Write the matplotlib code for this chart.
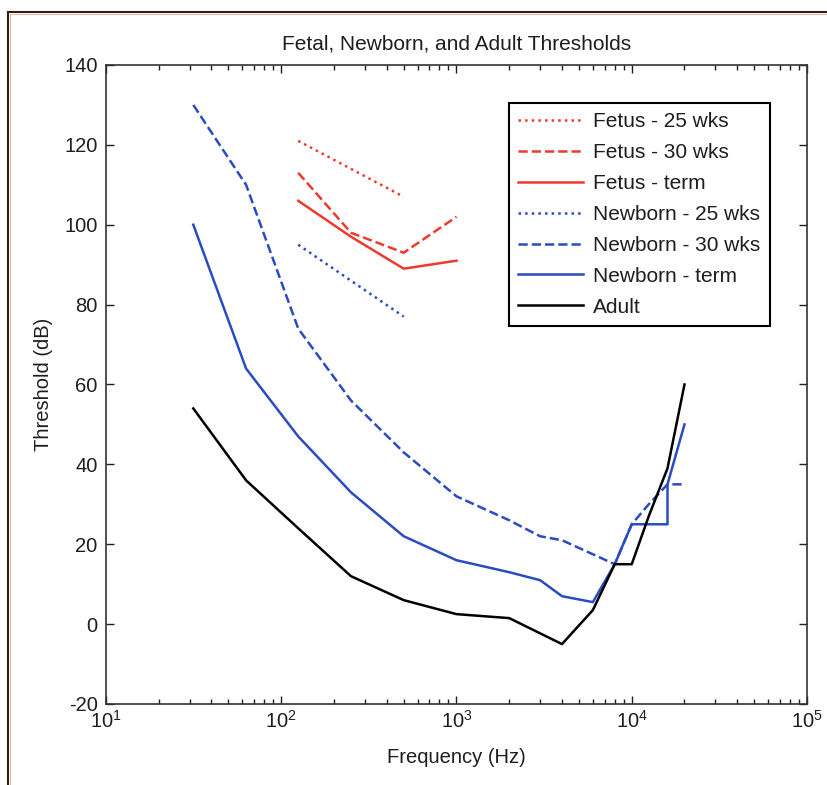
import matplotlib
matplotlib.use("Agg")
import matplotlib.pyplot as plt
from matplotlib.lines import Line2D
from matplotlib.ticker import LogLocator, MultipleLocator

plt.rcParams['font.family'] = ['Liberation Sans', 'DejaVu Sans']
plt.rcParams['mathtext.fontset'] = 'custom'
plt.rcParams['mathtext.rm'] = 'Liberation Sans'
plt.rcParams['axes.unicode_minus'] = False

# ---- data ----
fetus25_f = [125, 250, 500]
fetus25_db = [121, 114, 107]

fetus30_f = [125, 250, 500, 1000]
fetus30_db = [113, 98, 93, 102]

fetusterm_f = [125, 250, 500, 1000]
fetusterm_db = [106, 97, 89, 91]

newborn25_f = [125, 250, 500]
newborn25_db = [95, 86, 77]

newborn30_f = [31.5, 63, 125, 250, 500, 1000, 2000, 3000, 4000, 8000, 10000, 12500, 16000, 20000]
newborn30_db = [130, 110, 74, 56, 43, 32, 26, 22, 21, 15, 25, 30, 35, 35]

newbornterm_f = [31.5, 63, 125, 250, 500, 1000, 2000, 3000, 4000, 6000, 8000, 10000, 16000, 16000, 20000]
newbornterm_db = [100, 64, 47, 33, 22, 16, 13, 11, 7, 5.5, 15, 25, 25, 35, 50]

adult_f = [31.5, 63, 125, 250, 500, 1000, 2000, 4000, 6000, 8000, 10000, 12500, 16000, 20000]
adult_db = [54, 36, 24, 12, 6, 2.5, 1.5, -5, 3.5, 15, 15, 27, 39, 60]

labels = ["Fetus - 25 wks", "Fetus - 30 wks", "Fetus - term",
          "Newborn - 25 wks", "Newborn - 30 wks", "Newborn - term", "Adult"]

RED = '#ee3a2c'
BLUE = '#2b4cc0'
TXT = '#1e1e1e'

fig = plt.figure(figsize=(8.28, 7.85), dpi=100)
ax = fig.add_axes([0.128, 0.1032, 0.8466, 0.814])

lw = 1.8
ax.plot(fetus25_f, fetus25_db, ls=':', color=RED, lw=lw, label=labels[0])
ax.plot(fetus30_f, fetus30_db, ls='--', color=RED, lw=lw, label=labels[1])
ax.plot(fetusterm_f, fetusterm_db, ls='-', color=RED, lw=lw, label=labels[2])
ax.plot(newborn25_f, newborn25_db, ls=':', color=BLUE, lw=lw, label=labels[3])
ax.plot(newborn30_f, newborn30_db, ls='--', color=BLUE, lw=lw, label=labels[4])
ax.plot(newbornterm_f, newbornterm_db, ls='-', color=BLUE, lw=lw, label=labels[5])
ax.plot(adult_f, adult_db, ls='-', color='black', lw=lw, label=labels[6])

ax.set_xscale('log')
ax.set_xlim(10, 1e5)
ax.set_ylim(-20, 140)
ax.yaxis.set_major_locator(MultipleLocator(20))
ax.xaxis.set_major_locator(LogLocator(base=10, numticks=10))
ax.xaxis.set_minor_locator(LogLocator(base=10, subs=range(2, 10), numticks=20))

ax.tick_params(which='both', direction='in', top=True, right=True, labelsize=14.5, colors=TXT)
ax.tick_params(axis='x', which='major', pad=4)
ax.tick_params(axis='y', which='major', pad=6)
ax.tick_params(which='major', length=6, width=1)
ax.tick_params(which='minor', length=3.5, width=1)
for s in ax.spines.values():
    s.set_linewidth(1.2)
    s.set_color('#333333')

ax.set_title("Fetal, Newborn, and Adult Thresholds", fontsize=15, pad=11, color=TXT)
ax.set_xlabel("Frequency (Hz)", fontsize=14.5, color=TXT, labelpad=12)
ax.set_ylabel("Threshold (dB)", fontsize=14.5, color=TXT, labelpad=8)

leg = ax.legend(loc='upper right', bbox_to_anchor=(0.947, 0.9405), fontsize=15,
                fancybox=False, framealpha=1, edgecolor='black', handlelength=3.1,
                labelspacing=0.57, borderpad=0.45, handletextpad=0.5, borderaxespad=0)
leg.get_frame().set_linewidth(1.5)
for t in leg.get_texts():
    t.set_color(TXT)

# figure border (top and left)
fig.add_artist(Line2D([8/828, 1], [1-12/785, 1-12/785], transform=fig.transFigure, color='#2a2018', lw=1.5))
fig.add_artist(Line2D([8/828, 8/828], [0, 1-12/785], transform=fig.transFigure, color='#2a2018', lw=1.5))
fig.add_artist(Line2D([10/828, 1], [1-14/785, 1-14/785], transform=fig.transFigure, color='#f0b8a0', lw=0.8))
fig.add_artist(Line2D([10/828, 10/828], [0, 1-14/785], transform=fig.transFigure, color='#f0b8a0', lw=0.8))

fig.savefig("out.png", dpi=100)
